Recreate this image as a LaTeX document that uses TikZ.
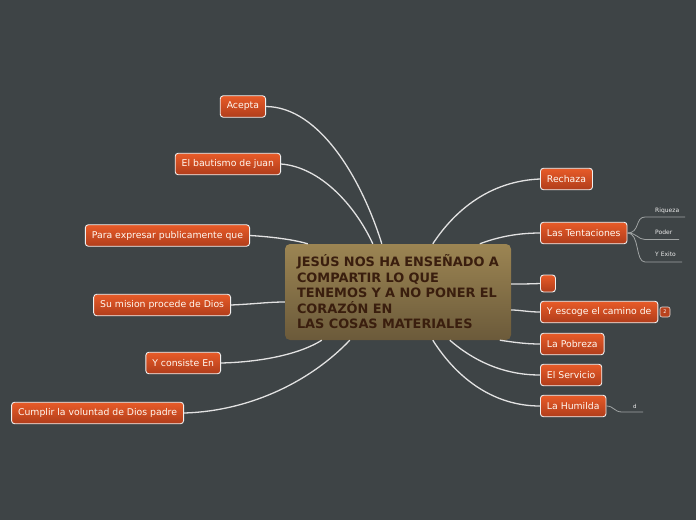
\documentclass[tikz,border=0pt]{standalone}
\usepackage{fontspec}
\setmainfont{DejaVu Sans}
\usetikzlibrary{calc}
\definecolor{bg}{HTML}{3E4446}
\definecolor{ctop}{HTML}{9C8553}
\definecolor{cbot}{HTML}{6B5A3A}
\definecolor{ctext}{HTML}{3A1E0E}
\definecolor{otop}{HTML}{E85B28}
\definecolor{obot}{HTML}{B03D1B}
\definecolor{conncol}{HTML}{E2E2E2}
\definecolor{subcol}{HTML}{A0A4A4}
\tikzset{
  centre/.style={rounded corners=5, top color=ctop, bottom color=cbot, text=ctext,
    font=\bfseries\fontsize{12.9}{15.5}\selectfont, align=left, text width=202,
    inner xsep=12, minimum width=226, minimum height=96},
  topic/.style={rounded corners=3, draw=white!88!gray, line width=0.9, top color=otop,
    bottom color=obot, text=white!95!orange, font=\fontsize{9.3}{11}\selectfont,
    inner xsep=6.5, minimum height=21.5},
  badge/.style={rounded corners=2, draw=white!75!gray, line width=0.6, fill=obot!85!otop,
    text=white, font=\fontsize{5}{6}\selectfont, inner sep=0, minimum width=10, minimum height=10},
  subtxt/.style={text=white!85!gray, font=\fontsize{6}{7}\selectfont, inner sep=0},
  conn/.style={draw=conncol, line width=1.3},
  subline/.style={draw=subcol, line width=0.8},
}
\begin{document}
\begin{tikzpicture}[x=1pt,y=-1pt]
\fill[bg] (0,0) rectangle (696,520);
\useasboundingbox (0,0) rectangle (696,520);

% nodes
\node[centre] (c) at (398,292) {JESÚS NOS HA ENSEÑADO A\\COMPARTIR LO QUE\\TENEMOS Y A NO PONER EL\\CORAZÓN EN\\LAS COSAS MATERIALES};

\node[topic, anchor=east] (acepta) at (266,106.5) {Acepta};
\node[topic, anchor=east] (baut) at (281,164) {El bautismo de juan};
\node[topic, anchor=east] (para) at (250,235.5) {Para expresar publicamente que};
\node[topic, anchor=east] (mision) at (231,305) {Su mision procede de Dios};
\node[topic, anchor=east] (consiste) at (221,363) {Y consiste En};
\node[topic, anchor=east] (cumplir) at (184,413) {Cumplir la voluntad de Dios padre};

\node[topic, anchor=west] (rech) at (540,179) {Rechaza};
\node[topic, anchor=west] (tent) at (540,233) {Las Tentaciones};
\node[topic, anchor=west, minimum width=15, minimum height=17, inner sep=0] (empty) at (540,283.5) {};
\node[topic, anchor=west] (escoge) at (540,312) {Y escoge el camino de};
\node[badge] (two) at (665,312) {2};
\node[topic, anchor=west] (pob) at (540,344) {La Pobreza};
\node[topic, anchor=west] (serv) at (540,375) {El Servicio};
\node[topic, anchor=west] (hum) at (540,406) {La Humilda};

% connector anchor points on the central topic
\coordinate (cA) at ($(c.north west)+(97,0)$);
\coordinate (cB) at ($(c.north west)+(88,0)$);
\coordinate (cP) at ($(c.north west)+(23,0)$);
\coordinate (cM) at ($(c.west)+(0,10)$);
\coordinate (cY) at ($(c.south west)+(37,0)$);
\coordinate (cC) at ($(c.south west)+(65,0)$);
\coordinate (cR) at ($(c.north west)+(148,0)$);
\coordinate (cT) at ($(c.north west)+(195,0)$);
\coordinate (cE) at ($(c.east)+(0,-8)$);
\coordinate (cS) at ($(c.east)+(0,18)$);
\coordinate (cPo) at ($(c.south west)+(215,0)$);
\coordinate (cSe) at ($(c.south west)+(165,0)$);
\coordinate (cH) at ($(c.south west)+(148,0)$);

% main connectors
\draw[conn] (acepta.east) .. controls (320,107) and (362,180) .. (cA);
\draw[conn] (baut.east) .. controls (320,167) and (355,205) .. (cB);
\draw[conn] (para.east) .. controls (275,237) and (295,240) .. (cP);
\draw[conn] (mision.east) .. controls (255,304) and (268,302) .. (cM);
\draw[conn] (consiste.east) .. controls (262,362) and (300,354) .. (cY);
\draw[conn] (cumplir.east) .. controls (252,411) and (312,380) .. (cC);
\draw[conn] (rech.west) .. controls (490,181) and (455,210) .. (cR);
\draw[conn] (tent.west) .. controls (515,233) and (495,238) .. (cT);
\draw[conn] (empty.west) .. controls (528,284) and (520,284) .. (cE);
\draw[conn] (escoge.west) .. controls (528,312) and (520,310) .. (cS);
\draw[conn] (pob.west) .. controls (525,344) and (512,342) .. (cPo);
\draw[conn] (serv.west) .. controls (505,375) and (475,362) .. (cSe);
\draw[conn] (hum.west) .. controls (495,406) and (458,380) .. (cH);

% sub-topics of Las Tentaciones
\node[subtxt, anchor=base west] (riq) at (655,212) {Riqueza};
\node[subtxt, anchor=base west] (pod) at (655,234.5) {Poder};
\node[subtxt, anchor=base west] (exi) at (655,256.5) {Y Exito};
\coordinate (riqL) at (645,217); \coordinate (riqR) at (685,217);
\coordinate (podL) at (645,239.5); \coordinate (podR) at (679,239.5);
\coordinate (exiL) at (645,262); \coordinate (exiR) at (682,262);
\draw[subline] (tent.east) .. controls (640,233) and (635,217) .. (riqL) -- (riqR);
\draw[subline] (tent.east) .. controls (637,233) and (638,239.5) .. (podL) -- (podR);
\draw[subline] (tent.east) .. controls (640,233) and (635,262) .. (exiL) -- (exiR);

% sub-topic of La Humilda
\node[subtxt, anchor=base west, font=\fontsize{5.5}{6}\selectfont] (dd) at (633,408) {d};
\coordinate (dL) at (622,412); \coordinate (dR) at (643,412);
\draw[subline] (hum.east) .. controls (614,406) and (614,412) .. (dL) -- (dR);
\end{tikzpicture}
\end{document}
